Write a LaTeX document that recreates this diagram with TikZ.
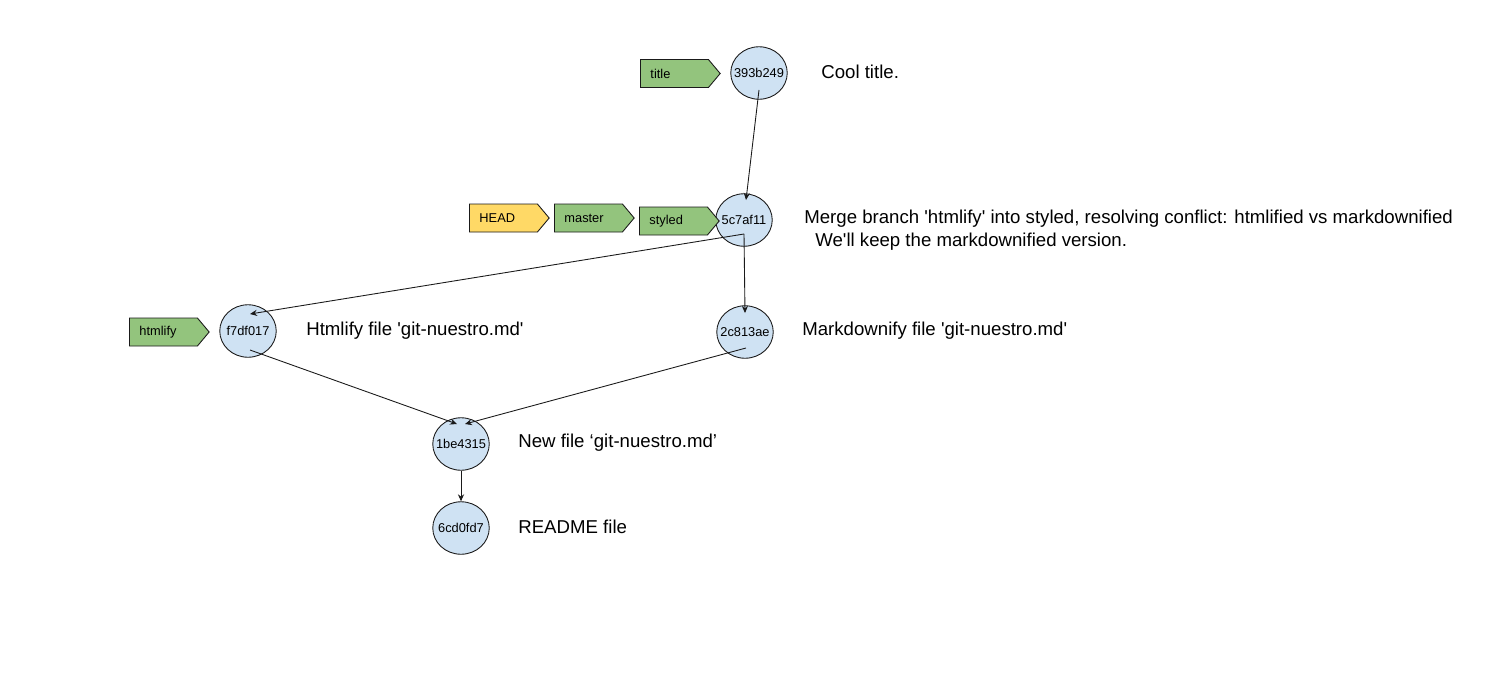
\documentclass[tikz,border=0pt]{standalone}
\usepackage{fontspec}
\setmainfont{Liberation Sans}[Ligatures=TeXOff]
\usepackage{tikz}
\usetikzlibrary{arrows.meta,shapes.geometric,shapes.symbols}
\definecolor{commitblue}{HTML}{CFE2F3}
\definecolor{branchgreen}{HTML}{93C47D}
\definecolor{headyellow}{HTML}{FFD966}
\definecolor{outline}{HTML}{1A1A1A}

\begin{document}
\begin{tikzpicture}[
    x=0.02cm, y=-0.02cm,
    commit/.style={
        ellipse,
        draw=outline,
        line width=0.5pt,
        fill=commitblue,
        minimum width=1.13cm,
        minimum height=1.05cm,
        inner xsep=-0.2cm,
        inner ysep=0pt,
        font=\fontsize{7.3}{9}\selectfont
    },
    tag/.style={
        signal,
        signal to=east,
        signal pointer angle=100,
        draw=outline,
        line width=0.5pt,
        minimum height=0.56cm,
        text width=0.96cm,
        inner xsep=0.2cm,
        inner ysep=0pt,
        align=left,
        anchor=west,
        font=\fontsize{7.3}{9}\selectfont
    },
    branch/.style={tag, fill=branchgreen},
    headref/.style={tag, fill=headyellow},
    msg/.style={anchor=west, inner sep=0pt, font=\fontsize{10.6}{13}\selectfont},
    edge/.style={-{Stealth[length=4pt,width=3.5pt]}, line width=0.5pt, outline}
]
    \path[fill=white] (0,0) rectangle (1487,673);
    \useasboundingbox (0,0) rectangle (1487,673);

    % === COMMITS ===
    \node[commit] (c393) at (759,73) {393b249};
    \node[commit] (c5c7) at (744,220) {5c7af11};
    \node[commit] (cf7d) at (248,331) {f7df017};
    \node[commit] (c2c8) at (745,332) {2c813ae};
    \node[commit] (c1be) at (461,444) {1be4315};
    \node[commit] (c6cd) at (461,528) {6cd0fd7};

    % === REFS ===
    \node[branch] (ttitle) at (640,73.5) {title};
    \node[headref] (thead) at (469,218) {HEAD};
    \node[branch] (tmaster) at (554,218) {master};
    \node[branch] (tstyled) at (639,221) {styled};
    \node[branch] (thtmlify) at (129,332) {htmlify};

    % === MESSAGES ===
    \node[msg] (mcool) at (821,72) {Cool title.};
    \node[msg, anchor=north west, align=left] (mmerge) at (804,210)
        {Merge branch 'htmlify' into styled, resolving conflict: htmlified vs markdownified\\
         \hspace*{0.22cm}We'll keep the markdownified version.};
    \node[msg] (mhtml) at (306,331) {Htmlify file 'git-nuestro.md'};
    \node[msg] (mmark) at (802,331) {Markdownify file 'git-nuestro.md'};
    \node[msg] (mnew) at (518,443) {New file ‘git-nuestro.md’};
    \node[msg] (mreadme) at (518,527) {README file};

    % === PARENT LINKS ===
    \draw[edge] ([yshift=-0.34cm]c393.center) -- ([xshift=0.04cm,yshift=0.4cm]c5c7.center);
    \draw[edge] ([yshift=-0.28cm]c5c7.center) -- ([xshift=0.04cm,yshift=0.34cm]cf7d.center);
    \draw[edge] ([yshift=-0.28cm]c5c7.center) -- ([yshift=0.38cm]c2c8.center);
    \draw[edge] ([xshift=0.04cm,yshift=-0.38cm]cf7d.center) -- ([xshift=-0.08cm,yshift=0.4cm]c1be.center);
    \draw[edge] ([xshift=0.02cm,yshift=-0.32cm]c2c8.center) -- ([xshift=0.08cm,yshift=0.4cm]c1be.center);
    \draw[edge] (c1be.south) -- (c6cd.north);
\end{tikzpicture}
\end{document}
